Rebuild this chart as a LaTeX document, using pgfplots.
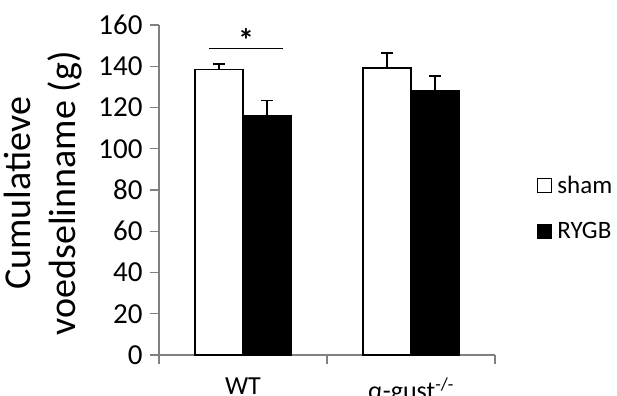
\documentclass[border=0pt]{standalone}
\usepackage{pgfplots}
\pgfplotsset{compat=1.18}
\usepackage{fontspec}
\setmainfont{Carlito}
\begin{document}
\begin{tikzpicture}
\begin{axis}[
  scale only axis,
  width=336bp, height=330bp,
  xmin=0, xmax=2, ymin=0, ymax=160,
  axis lines*=left,
  axis line style={draw=gray, line width=1.2bp},
  tick style={draw=gray, line width=1.2bp},
  tick align=outside,
  major tick length=9bp,
  ytick={0,20,...,160},
  xtick={0,1,2}, xticklabels={},
  extra x ticks={0.5,1.5},
  extra x tick labels={WT, α-gust\textsuperscript{-/-}},
  extra x tick style={major tick length=0pt, tick style={draw=none}},
  xticklabel style={font=\fontsize{26bp}{30bp}\selectfont, yshift=-19bp},
  yticklabel style={font=\fontsize{29bp}{34bp}\selectfont, xshift=-4bp},
  /pgf/number format/assume math mode=true,
  ylabel={Cumulatieve\\voedselinname (g)},
  ylabel style={align=center, font=\fontsize{38bp}{45bp}\selectfont,
    at={(axis description cs:-0.345,0.49)}, anchor=center},
  legend style={draw=none, fill=none, at={(1.115,0.445)}, anchor=west,
    font=\fontsize{25bp}{28bp}\selectfont, row sep=24bp},
  legend cell align=left,
  legend image code/.code={\draw[#1, line width=1.2bp] (0bp,-7bp) rectangle (14bp,7bp); \path[draw=none, fill=none] (0bp,0bp) -- (18bp,0bp);},
]
\addplot[ybar, bar width=48bp, bar shift=0pt, fill=white, draw=black, line width=1.4bp,
  error bars/.cd, y dir=plus, y explicit,
  error bar style={line width=1.5bp, black},
  error mark options={rotate=90, mark size=6bp, line width=1.5bp, black}]
  coordinates {(0.357,138.5) +- (0,2.7) (1.357,139.2) +- (0,7.2)};
\addlegendentry{sham}
\addplot[ybar, bar width=48bp, bar shift=0pt, fill=black, draw=black, line width=1.4bp,
  error bars/.cd, y dir=plus, y explicit,
  error bar style={line width=1.5bp, black},
  error mark options={rotate=90, mark size=6bp, line width=1.5bp, black}]
  coordinates {(0.643,115.9) +- (0,7.4) (1.643,128.1) +- (0,7.2)};
\addlegendentry{RYGB}
\addplot[black, line width=1.5bp, forget plot] coordinates {(0.298,148.7) (0.738,148.7)};
\node[font=\bfseries\fontsize{32bp}{36bp}\selectfont] at (axis cs:0.518,152.5) {*};
\end{axis}
\pgfresetboundingbox
\useasboundingbox (-159bp,-41bp) rectangle (458bp,355bp);
\end{tikzpicture}
\end{document}
